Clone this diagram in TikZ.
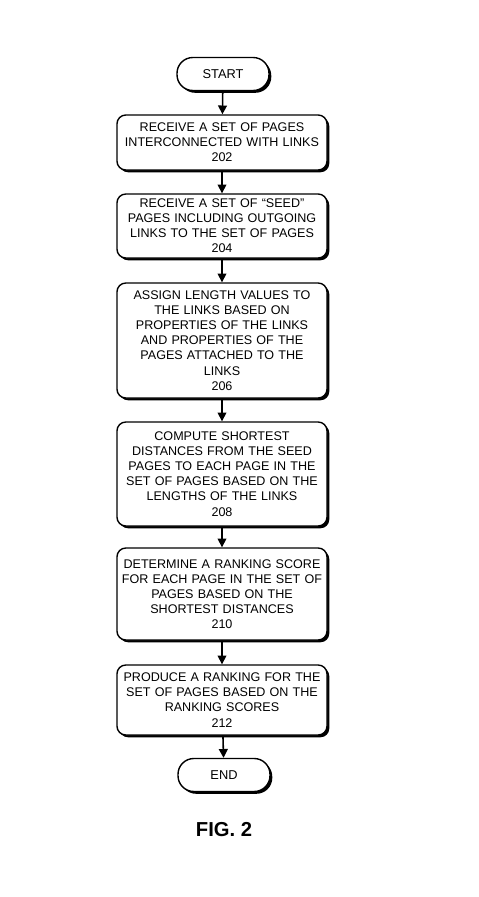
\documentclass[tikz,border=0pt]{standalone}
\usepackage{fontspec}
\setmainfont{Liberation Sans}
\usetikzlibrary{arrows.meta,shadows}

\begin{document}
\begin{tikzpicture}[x=0.02cm,y=-0.02cm,>={Triangle[length=5pt,width=5pt]},
  stepbox/.style={draw,line width=0.8pt,rounded corners=5pt,fill=white,
    text width=210*0.02cm,align=center,inner xsep=0pt,inner ysep=1pt,
    font=\fontsize{7.15}{8.6}\selectfont,
    drop shadow={shadow xshift=1.3pt,shadow yshift=-1.3pt,fill=black,opacity=1}},
  term/.style={draw,line width=0.8pt,rounded corners=9pt,fill=white,
    minimum width=92*0.02cm,minimum height=33*0.02cm,
    font=\fontsize{7.3}{8.6}\selectfont,
    drop shadow={shadow xshift=1.3pt,shadow yshift=-1.3pt,fill=black,opacity=1}},
  flow/.style={->,line width=0.9pt}]

\useasboundingbox (0,0) rectangle (479,897);

% ---------- Terminators and steps ----------
\node[term] (start) at (223,74) {START};

\node[stepbox,minimum height=55*0.02cm] (s202) at (222,142.5)
  {RECEIVE A SET OF PAGES\\INTERCONNECTED WITH LINKS\\202};
\node[stepbox,minimum height=64*0.02cm] (s204) at (222,226)
  {RECEIVE A SET OF ``SEED''\\PAGES INCLUDING OUTGOING\\LINKS TO THE SET OF PAGES\\204};
\node[stepbox,minimum height=115*0.02cm] (s206) at (222,340.5)
  {ASSIGN LENGTH VALUES TO\\THE LINKS BASED ON\\PROPERTIES OF THE LINKS\\AND PROPERTIES OF THE\\PAGES ATTACHED TO THE\\LINKS\\206};
\node[stepbox,minimum height=104*0.02cm] (s208) at (222,474)
  {COMPUTE SHORTEST\\DISTANCES FROM THE SEED\\PAGES TO EACH PAGE IN THE\\SET OF PAGES BASED ON THE\\LENGTHS OF THE LINKS\\208};
\node[stepbox,minimum height=92*0.02cm] (s210) at (222,594)
  {DETERMINE A RANKING SCORE\\FOR EACH PAGE IN THE SET OF\\PAGES BASED ON THE\\SHORTEST DISTANCES\\210};
\node[stepbox,minimum height=70*0.02cm] (s212) at (222,700)
  {PRODUCE A RANKING FOR THE\\SET OF PAGES BASED ON THE\\RANKING SCORES\\212};

\node[term] (end) at (224,775) {END};

% ---------- Connectors ----------
\draw[flow] (start) -- (s202);
\draw[flow] (s202) -- (s204);
\draw[flow] (s204) -- (s206);
\draw[flow] (s206) -- (s208);
\draw[flow] (s208) -- (s210);
\draw[flow] (s210) -- (s212);
\draw[flow] (s212) -- (end);

% ---------- Caption ----------
\node[font=\bfseries\fontsize{11.5}{13}\selectfont] (fig) at (224,830) {FIG. 2};

\end{tikzpicture}
\end{document}
